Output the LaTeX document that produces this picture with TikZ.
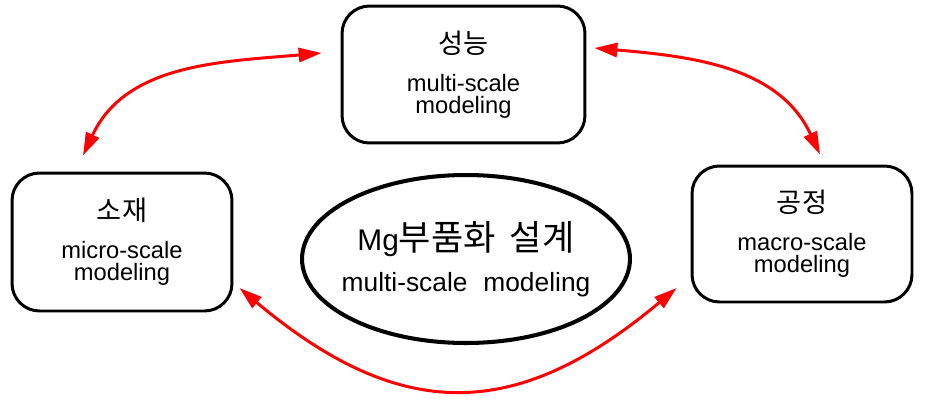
\documentclass[tikz,border=0pt]{standalone}
\usepackage{fontspec}
\setmainfont{Liberation Sans}
\newfontfamily\kr{Noto Sans CJK KR}
\usetikzlibrary{arrows.meta,shapes.geometric}

\newcommand\boxtitle[1]{{\kr\fontsize{15.5}{15.5}\selectfont #1}}

\begin{document}
\begin{tikzpicture}[
  x=0.02cm, y=0.02cm,
  card/.style={draw, line width=1.7pt, rounded corners=0.55cm, align=center, inner sep=0pt,
    font=\fontsize{13.5}{12.5}\selectfont},
  core/.style={draw, ellipse, line width=2.3pt, inner xsep=-0.5cm, inner ysep=-0.3cm,
    minimum width=6.56cm, minimum height=3.36cm, align=center, font=\fontsize{15}{15}\selectfont},
  link/.style={draw=red, line width=1.7pt,
    {Triangle[length=13pt,width=8pt]}-{Triangle[length=13pt,width=8pt]}}
]
\useasboundingbox (0,0) rectangle (928,400);

\node[card, minimum width=4.86cm, minimum height=2.74cm] (perf) at (463.5,325.5)
  {\boxtitle{성능}\\[9pt] multi-scale\\ modeling};
\node[card, minimum width=4.4cm, minimum height=2.76cm] (matl) at (122,158)
  {\boxtitle{소재}\\[9pt] micro-scale\\ modeling};
\node[card, minimum width=4.4cm, minimum height=2.72cm] (proc) at (802,166)
  {\boxtitle{공정}\\[9pt] macro-scale\\ modeling};
\node[core] (design) at (466,141)
  {{\fontsize{17}{17}\selectfont Mg\kr\fontsize{20}{20}\selectfont 부품화\hspace{0.4em}설계}\\[8pt]
   multi-scale\hspace{0.6em}modeling};

\draw[link] ([shift={(-39,16)}]matl.north) to[out=65,in=185] ([shift={(-19,21.5)}]perf.west);
\draw[link] ([shift={(8,26.5)}]perf.east) to[out=-5,in=115] ([shift={(18,10)}]proc.north);
\draw[link] ([shift={(6,-46)}]matl.east) to[out=-40,in=-140,looseness=1.23]
  ([shift={(-14,-54)}]proc.west);
\end{tikzpicture}
\end{document}
